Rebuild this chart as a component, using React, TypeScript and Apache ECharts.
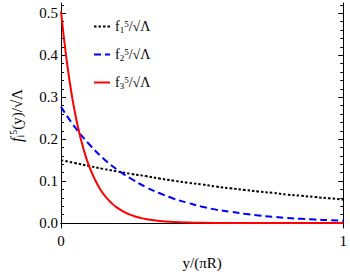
import React, { useEffect, useRef } from "react";
import * as echarts from "echarts";

const xF1: number[] = [0, 0.05, 0.1, 0.15, 0.2, 0.25, 0.3, 0.35, 0.4, 0.45, 0.5, 0.55, 0.6, 0.65, 0.7, 0.75, 0.8, 0.85, 0.9, 0.95, 1];
const f1: number[] = [0.150, 0.143, 0.136, 0.129, 0.123, 0.117, 0.112, 0.106, 0.101, 0.096, 0.092, 0.087, 0.083, 0.079, 0.075, 0.072, 0.068, 0.065, 0.062, 0.059, 0.056];
const xF2: number[] = xF1;
const f2: number[] = [0.277, 0.228, 0.188, 0.154, 0.127, 0.105, 0.086, 0.071, 0.058, 0.048, 0.039, 0.032, 0.027, 0.022, 0.018, 0.015, 0.012, 0.010, 0.0083, 0.0068, 0.0056];
const xF3: number[] = [0, 0.02, 0.04, 0.06, 0.08, 0.1, 0.12, 0.14, 0.16, 0.18, 0.2, 0.22, 0.24, 0.26, 0.28, 0.3, 0.35, 0.4, 0.45, 0.5, 0.6, 0.7, 0.8, 0.9, 1];
const f3: number[] = [0.505, 0.388, 0.298, 0.229, 0.176, 0.135, 0.104, 0.0796, 0.0611, 0.0469, 0.0361, 0.0277, 0.0213, 0.0163, 0.0125, 0.0096, 0.005, 0.0026, 0.0013, 0.0007, 0.0002, 0.0001, 0, 0, 0];

const yMajor: number[] = [0, 0.1, 0.2, 0.3, 0.4, 0.5];
const yMinor: number[] = [0.02, 0.04, 0.06, 0.08, 0.12, 0.14, 0.16, 0.18, 0.22, 0.24, 0.26, 0.28, 0.32, 0.34, 0.36, 0.38, 0.42, 0.44, 0.46, 0.48, 0.52];
const xTickLabels: number[] = [0, 1];

const seriesNames = ["f1", "f2", "f3"];
const legendSub: Record<string, string> = { f1: "1", f2: "2", f3: "3" };

const FONT = "'Liberation Serif', 'Times New Roman', serif";
const YMIN = -0.0118;
const YMAX = 0.5247;

const zip = (xs: number[], ys: number[]) => xs.map((x, i) => [x, ys[i]]);

export default function App() {
  const ref = useRef<HTMLDivElement>(null);
  useEffect(() => {
    if (!ref.current) return;
    const chart = echarts.init(ref.current, null, { renderer: "svg" });
    const baseY = {
      type: "value" as const,
      min: YMIN,
      max: YMAX,
      splitLine: { show: false },
    };
    chart.setOption({
      animation: false,
      backgroundColor: "#fff",
      grid: { left: 56, right: 5, top: 3, bottom: 44, containLabel: false },
      legend: {
        orient: "vertical",
        left: 88,
        top: 14,
        itemGap: 13,
        itemWidth: 16,
        itemHeight: 14,
        data: seriesNames,
        itemStyle: { opacity: 0 },
        formatter: (name: string) => `{f|f}{s|${legendSub[name]}}{p|5}{n|/√Λ}`,
        textStyle: {
          fontFamily: FONT,
          fontSize: 14,
          color: "#000",
          rich: {
            f: { fontFamily: FONT, fontSize: 14, color: "#000" },
            s: { fontFamily: FONT, fontSize: 9, color: "#000", verticalAlign: "bottom", padding: [6, 0, 0, 0] },
            p: { fontFamily: FONT, fontSize: 9, color: "#000", verticalAlign: "top", padding: [0, 0, 6, 0] },
            n: { fontFamily: FONT, fontSize: 14, color: "#000" },
          },
        },
      },
      xAxis: [
        {
          type: "value",
          min: 0,
          max: 1,
          interval: 1,
          position: "bottom",
          axisLine: { show: true, lineStyle: { color: "#000", width: 1 } },
          axisTick: { show: false },
          splitLine: { show: false },
          axisLabel: {
            customValues: xTickLabels,
            fontFamily: FONT,
            fontSize: 15,
            color: "#000",
            margin: 5,
            formatter: (v: number) => String(v),
          },
          name: "y/(πR)",
          nameLocation: "middle",
          nameGap: 27,
          nameTextStyle: { fontFamily: FONT, fontSize: 15, color: "#000" },
        },
        {
          type: "value",
          min: 0,
          max: 1,
          position: "top",
          axisLine: { show: true, lineStyle: { color: "#000", width: 1 } },
          axisTick: { show: false },
          axisLabel: { show: false },
          splitLine: { show: false },
        },
      ],
      yAxis: [
        {
          ...baseY,
          position: "left",
          axisLine: { show: true, lineStyle: { color: "#000", width: 1 } },
          axisTick: { show: true, inside: true, length: 5, customValues: yMajor, lineStyle: { color: "#000" } },
          axisLabel: {
            customValues: yMajor,
            fontFamily: FONT,
            fontSize: 15,
            color: "#000",
            margin: 3,
            formatter: (v: number) => v.toFixed(1),
          },
          name: "{f|f}{s|i}{p|5}{n|(y)/√Λ}",
          nameLocation: "middle",
          nameRotate: 90,
          nameGap: 36,
          nameTextStyle: {
            fontFamily: FONT,
            fontSize: 15,
            color: "#000",
            rich: {
              f: { fontFamily: FONT, fontSize: 16, fontStyle: "italic", color: "#000" },
              s: { fontFamily: FONT, fontSize: 10, color: "#000", verticalAlign: "bottom", padding: [7, 0, 0, 0] },
              p: { fontFamily: FONT, fontSize: 10, color: "#000", verticalAlign: "top", padding: [0, 0, 7, 0] },
              n: { fontFamily: FONT, fontSize: 15, color: "#000" },
            },
          },
        },
        {
          ...baseY,
          position: "left",
          axisLine: { show: false },
          axisTick: { show: true, inside: true, length: 3, customValues: yMinor, lineStyle: { color: "#000" } },
          axisLabel: { show: false },
        },
        {
          ...baseY,
          position: "right",
          axisLine: { show: true, lineStyle: { color: "#000", width: 1 } },
          axisTick: { show: true, inside: true, length: 5, customValues: yMajor, lineStyle: { color: "#000" } },
          axisLabel: { show: false },
        },
        {
          ...baseY,
          position: "right",
          axisLine: { show: false },
          axisTick: { show: true, inside: true, length: 3, customValues: yMinor, lineStyle: { color: "#000" } },
          axisLabel: { show: false },
        },
      ],
      series: [
        {
          name: "f1",
          type: "line",
          smooth: true,
          showSymbol: false,
          symbol: "none",
          data: zip(xF1, f1),
          itemStyle: { color: "#000" },
          lineStyle: { color: "#000", width: 2, type: [2.5, 2] },
        },
        {
          name: "f2",
          type: "line",
          smooth: true,
          showSymbol: false,
          symbol: "none",
          data: zip(xF2, f2),
          itemStyle: { color: "#0000ff" },
          lineStyle: { color: "#0000ff", width: 2, type: [7, 4] },
        },
        {
          name: "f3",
          type: "line",
          smooth: true,
          showSymbol: false,
          symbol: "none",
          data: zip(xF3, f3),
          itemStyle: { color: "#ff0000" },
          lineStyle: { color: "#ff0000", width: 2 },
        },
      ],
    });
    return () => chart.dispose();
  }, []);
  return <div ref={ref} style={{ width: 350, height: 275, position: "absolute", left: 0, top: 0 }} />;
}
